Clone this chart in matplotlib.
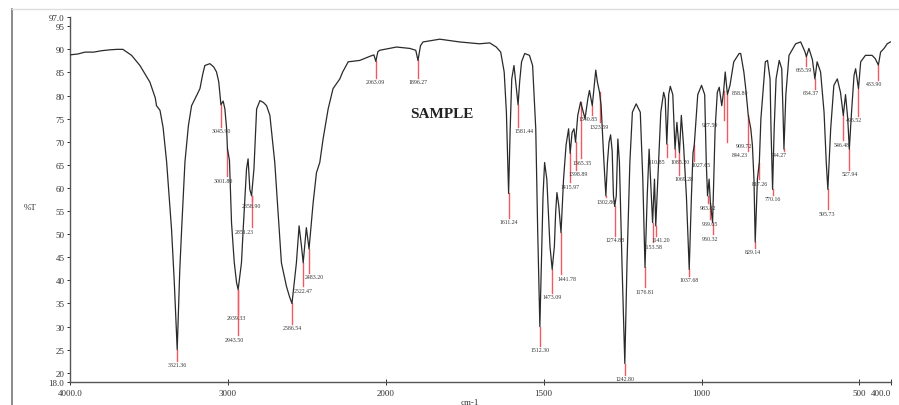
import numpy as np
import matplotlib
matplotlib.use("Agg")
import matplotlib.pyplot as plt
from matplotlib.lines import Line2D

# ---------------- data ----------------
wavenumber = [4000, 3950, 3905, 3850, 3800, 3747, 3700, 3665, 3610, 3557, 3494, 3460, 3452,
              3430, 3410, 3388, 3357, 3340, 3321, 3305, 3293, 3272, 3250, 3230, 3198, 3177,
              3160, 3146, 3114, 3090, 3072, 3058, 3044, 3030, 3019, 3008, 3003, 2990, 2977,
              2960, 2945, 2935, 2914, 2903, 2882, 2872, 2861, 2850, 2835, 2818, 2797, 2775,
              2755, 2734, 2703, 2682, 2661, 2629, 2610, 2594, 2580, 2566, 2549, 2534, 2523,
              2503, 2486, 2460, 2439, 2418, 2397, 2365, 2334, 2291, 2273, 2238, 2165, 2100,
              2075, 2063, 2050, 2038, 1966, 1924, 1905, 1898, 1890, 1882, 1829, 1766, 1703,
              1671, 1650, 1636, 1625, 1618, 1611, 1606, 1601, 1594, 1587, 1581, 1576, 1570,
              1560, 1545, 1535, 1525, 1519, 1512, 1507, 1502, 1497, 1490, 1485, 1480, 1473,
              1466, 1462, 1458, 1452, 1445, 1437, 1429, 1421, 1416, 1410, 1404, 1399, 1392,
              1383, 1369, 1360, 1355, 1346, 1335, 1330, 1323, 1318, 1309, 1303, 1298, 1293,
              1288, 1283, 1279, 1275, 1270, 1265, 1260, 1252, 1243, 1236, 1227, 1219, 1207,
              1194, 1186, 1179, 1172, 1166, 1160, 1155, 1149, 1145, 1136, 1129, 1120, 1115,
              1110, 1104, 1099, 1091, 1084, 1078, 1070, 1064, 1057, 1048, 1039, 1032, 1027,
              1023, 1012, 1000, 990, 985, 981, 976, 972, 965, 957, 950, 944, 936, 930, 925,
              918, 910, 898, 881, 876, 866, 860, 852, 844, 839, 834, 830, 823, 817, 812,
              798, 791, 783, 780, 775, 770, 764, 754, 746, 742, 739, 733, 723, 702, 686,
              672, 668, 660, 649, 641, 634, 623, 612, 605, 600, 591, 581, 570, 560, 551,
              544, 537, 532, 525, 517, 512, 503, 496, 481, 460, 450, 440, 433, 422, 412, 402]
transmittance = [88.8, 89.0, 89.4, 89.4, 89.7, 89.9, 90.0, 90.0, 88.7, 86.5, 82.9, 79.5, 77.8,
                 76.8, 73.0, 65.6, 51.1, 40.0, 25.0, 42.0, 51.0, 65.6, 73.5, 77.8, 80.0, 81.5,
                 84.5, 86.5, 86.9, 86.2, 85.1, 83.0, 78.0, 78.8, 77.1, 72.8, 68.5, 66.0, 52.5,
                 44.0, 39.5, 38.0, 43.8, 51.1, 64.1, 66.3, 59.7, 58.3, 64.1, 77.1, 78.9, 78.5,
                 77.8, 75.7, 65.5, 54.7, 43.8, 38.7, 36.5, 35.0, 39.5, 43.8, 51.8, 47.4, 43.8,
                 51.4, 46.8, 56.8, 63.3, 65.5, 70.6, 77.1, 81.5, 83.6, 85.1, 87.3, 87.6, 88.5,
                 88.8, 87.4, 89.5, 89.8, 90.5, 90.2, 89.8, 87.6, 90.8, 91.6, 92.2, 91.6, 91.2,
                 91.4, 90.5, 89.4, 85.1, 76.4, 58.8, 72.8, 83.6, 86.5, 82.0, 78.0, 83.0, 87.3,
                 89.1, 88.7, 86.5, 72.8, 51.1, 30.0, 43.8, 58.3, 65.5, 61.9, 54.7, 47.4, 42.4,
                 47.4, 54.7, 59.0, 56.1, 50.3, 61.9, 69.3, 72.8, 67.5, 72.0, 72.8, 69.9, 75.7,
                 78.6, 75.0, 79.3, 81.1, 77.8, 85.5, 83.0, 80.7, 77.8, 65.5, 58.3, 65.5, 69.9,
                 71.5, 68.0, 58.3, 56.0, 58.3, 70.6, 65.5, 43.8, 22.0, 43.8, 65.5, 76.4, 78.2,
                 76.4, 61.9, 42.8, 58.3, 68.4, 59.7, 52.5, 61.9, 51.8, 65.5, 76.4, 80.7, 79.3,
                 69.5, 80.2, 82.0, 80.2, 68.4, 74.2, 67.6, 75.7, 69.3, 58.3, 42.4, 58.3, 67.6,
                 69.3, 80.2, 82.2, 80.2, 65.5, 58.3, 61.9, 56.8, 52.5, 72.8, 80.7, 81.8, 77.8,
                 81.0, 85.1, 80.2, 82.2, 87.3, 89.1, 89.1, 85.1, 81.5, 75.7, 72.8, 69.3, 61.9,
                 48.3, 62.0, 65.5, 75.0, 87.3, 87.6, 83.6, 72.8, 59.7, 72.8, 83.6, 87.6, 85.8,
                 76.4, 68.4, 80.2, 88.7, 91.2, 91.6, 89.4, 88.4, 90.2, 87.8, 83.6, 87.3, 85.1,
                 76.4, 65.5, 59.7, 72.8, 82.2, 83.6, 80.7, 75.7, 80.2, 75.0, 68.4, 76.4, 84.4,
                 85.8, 81.5, 87.3, 88.7, 88.7, 88.0, 86.6, 89.4, 90.2, 91.2, 91.6]

peak_wn = [3321, 3044, 3003, 2935, 2935, 2850, 2850, 2594, 2523, 2486, 2063, 1898,
           1611, 1581, 1512, 1473, 1445, 1416, 1399, 1383, 1346, 1323, 1303, 1275, 1243,
           1179, 1155, 1145, 1110, 1084, 1070, 1039, 1023, 981, 972, 965, 930, 918,
           860, 852, 830, 817, 775, 739, 668, 641, 600, 551, 532, 503, 440]
peak_labels = ["3321.36", "3045.90", "3001.80", "2939.33", "2943.50", "2858.90", "2851.23",
               "2586.54", "2522.47", "2483.20", "2063.09", "1896.27",
               "1611.24", "1581.44", "1512.30", "1473.09", "1441.78", "1415.97", "1398.89",
               "1365.35", "1340.85", "1323.59", "1302.80", "1274.88", "1242.80",
               "1176.81", "1153.58", "1141.20", "1110.85", "1085.20", "1069.28", "1037.68",
               "1027.65", "983.82", "969.05", "950.32", "927.59", "909.72",
               "858.80", "844.23", "829.14", "817.26", "770.16", "744.27", "665.59", "634.37",
               "595.73", "546.48", "527.94", "496.52", "433.90"]

y_ticks = [18, 20, 25, 30, 35, 40, 45, 50, 55, 60, 65, 70, 75, 80, 85, 90, 95, 97]
y_ticklabels = ["18.0", "20", "25", "30", "35", "40", "45", "50", "55", "60", "65", "70",
                "75", "80", "85", "90", "95", "97.0"]
x_ticks = [4000, 3000, 2000, 1500, 1000, 500, 400]
x_ticklabels = ["4000.0", "3000", "2000", "1500", "1000", "500", "400.0"]

# ---------------- layout (label text top, in %T; x offsets in points) ----------------
label_pos = [22.3, 73.0, 62.2, 32.4, 27.8, 56.8, 51.2, 30.3, 38.4, 41.3, 83.6, 83.6,
             53.3, 72.9, 25.5, 37.0, 41.0, 60.9, 63.6, 66.1, 75.5, 73.9, 57.7, 49.4, 19.3,
             38.2, 47.9, 49.4, 66.3, 66.3, 62.6, 40.7, 65.6, 56.4, 52.9, 49.7, 74.3, 69.7,
             81.2, 67.8, 46.8, 61.6, 58.2, 67.7, 86.1, 81.1, 55.1, 70.0, 63.6, 75.3, 83.1]
label_dx = [0, 0, -3, -1, -3, 0, -5, 0, 0, 4, 0, 0,
            0, 4, 0, 0, 4, 0, 2, 1, -3, 0, 0, 0, 0,
            0, 0, 4, -8, 4, 3, 0, 5, 0, 0, -2, -10, 12,
            -4, -6, -2, 0, 0, -4, -2, -3, -1, -1, 0, -3, -3]


def fwd(w):
    w = np.asarray(w, dtype=float)
    return np.where(w >= 2000, 2000.0 + (w - 2000.0) / 2.0, w)


def inv(u):
    u = np.asarray(u, dtype=float)
    return np.where(u >= 2000, 2000.0 + (u - 2000.0) * 2.0, u)


plt.rcParams['font.family'] = ['Liberation Serif', 'DejaVu Serif']
fig = plt.figure(figsize=(8.99, 4.06), dpi=100)
ax = fig.add_axes([70 / 899, 23 / 406, 821 / 899, 365 / 406])
ax.set_xscale('function', functions=(fwd, inv))
ax.set_xlim(4000, 400)
ax.set_ylim(18, 97)

wn = np.array(wavenumber, dtype=float)
tr = np.array(transmittance, dtype=float)
order = np.argsort(wn)
ax.plot(wn, tr, color='#2a2a2a', lw=0.9, zorder=3)

# peak markers
for w, lab, ly, dx in zip(peak_wn, peak_labels, label_pos, label_dx):
    top = np.interp(w, wn[order], tr[order])
    ax.plot([w, w], [top, ly + 0.3], color='#ef5a63', lw=1.0, zorder=2)
    ax.annotate(lab, xy=(w, ly), xytext=(dx, 0), textcoords='offset points',
                ha='center', va='top', fontsize=4.2, color='#333333', zorder=4)

ax.set_xticks(x_ticks)
ax.set_xticklabels(x_ticklabels)
ax.get_xticklabels()[-1].set_horizontalalignment('right')
ax.set_yticks(y_ticks)
ax.set_yticklabels(y_ticklabels)
ax.minorticks_off()
ax.tick_params(axis='y', direction='out', length=2, width=0.7, labelsize=6.5,
               colors='#333333', pad=2)
ax.tick_params(axis='x', direction='inout', length=4, width=0.7, labelsize=6.5,
               colors='#333333', pad=3)
for s in ['top', 'right']:
    ax.spines[s].set_visible(False)
for s in ['left', 'bottom']:
    ax.spines[s].set_color('#555555')
    ax.spines[s].set_linewidth(1.0)

ax.text(0.453, 0.735, 'SAMPLE', transform=ax.transAxes, fontsize=11,
        fontweight='bold', color='#222222', ha='center', va='center')
fig.text(30 / 899, 1 - 208 / 406, '%T', fontsize=6.5, color='#333333',
         ha='center', va='center')
fig.text(470 / 899, 1 - 403 / 406, 'cm-1', fontsize=6.5, color='#333333',
         ha='center', va='center')

# page frame lines
fig.add_artist(Line2D([12 / 899, 12 / 899], [0, 1 - 10 / 406], color='#777777', lw=1.2))
fig.add_artist(Line2D([12 / 899, 1], [1 - 10 / 406, 1 - 10 / 406], color='#dddddd', lw=1.0))

fig.savefig('out.png', dpi=100)
